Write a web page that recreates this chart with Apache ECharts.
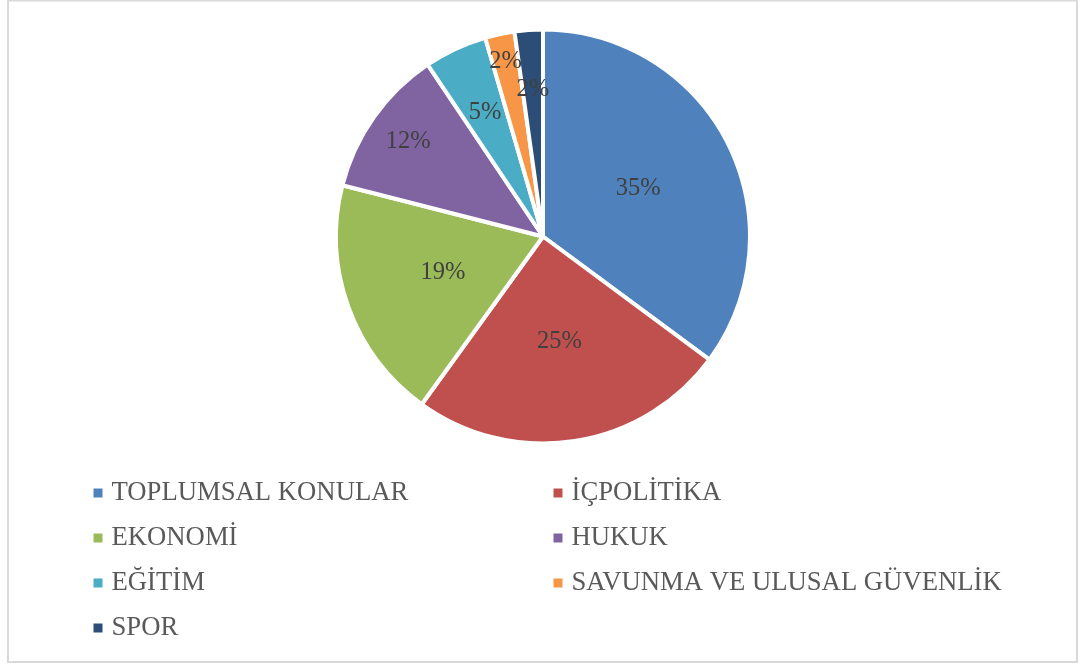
<!DOCTYPE html>
<html>
<head>
<meta charset="utf-8">
<script src="https://cdn.jsdelivr.net/npm/echarts@6/dist/echarts.min.js"></script>
<style>
html,body{margin:0;padding:0;background:#fff;}
#chart{width:1091px;height:666px;}
</style>
</head>
<body>
<div id="chart"></div>
<script>
const categories = ['TOPLUMSAL KONULAR','İÇPOLİTİKA','EKONOMİ','HUKUK','EĞİTİM','SAVUNMA VE ULUSAL GÜVENLİK','SPOR'];
const values = [35.1, 24.8, 19.0, 11.6, 4.9, 2.3, 2.2];
const colors = ['#4F81BD','#C0504D','#9BBB59','#8064A2','#4BACC6','#F79646','#2C4D75'];
const legendLeft = ['TOPLUMSAL KONULAR','EKONOMİ','EĞİTİM','SPOR'];
const legendRight = ['İÇPOLİTİKA','HUKUK','SAVUNMA VE ULUSAL GÜVENLİK'];

const FONT = "'Liberation Serif','Times New Roman',serif";
const CX = 543, CY = 236.5, R = 207;

// label radius groups: slices whose label sits further out (best-fit style)
const labelInnerRadius = {3: 119, 4: 63, 5: 147, 6: 83};

const pct = p => Math.round(p.percent) + '%';
const labelStyle = {fontFamily: FONT, fontSize: 24.5, color: '#404040'};

const mainData = categories.map((c, i) => ({
  name: c, value: values[i],
  itemStyle: {color: colors[i]},
  label: {show: !(i in labelInnerRadius)}
}));

const series = [{
  type: 'pie', radius: [0, R], center: [CX, CY], startAngle: 90, clockwise: true,
  silent: true, avoidLabelOverlap: false,
  itemStyle: {borderColor: '#fff', borderWidth: 4},
  label: Object.assign({position: 'inside', formatter: pct}, labelStyle),
  labelLine: {show: false},
  emphasis: {disabled: true},
  data: mainData
}];

Object.keys(labelInnerRadius).forEach(k => {
  const idx = +k;
  series.push({
    type: 'pie', radius: [labelInnerRadius[k], R - 2], center: [CX, CY], startAngle: 90, clockwise: true,
    silent: true, avoidLabelOverlap: false, z: 3,
    itemStyle: {color: 'rgba(0,0,0,0)', borderWidth: 0},
    label: Object.assign({position: 'inside', formatter: pct}, labelStyle),
    labelLine: {show: false},
    emphasis: {disabled: true},
    data: categories.map((c, i) => ({name: c, value: values[i], label: {show: i === idx}, itemStyle: {color: 'rgba(0,0,0,0)'}}))
  });
});

const legendCommon = {
  orient: 'vertical', top: 479.5, itemWidth: 9, itemHeight: 9, icon: 'rect', itemGap: 18, padding: 0,
  selectedMode: false,
  itemStyle: {borderWidth: 0},
  textStyle: {fontFamily: FONT, fontSize: 26.7, color: '#595959', lineHeight: 27, padding: [0,0,0,4]}
};

const chart = echarts.init(document.getElementById('chart'), null, {renderer: 'canvas'});
chart.setOption({
  animation: false,
  color: colors,
  graphic: [{type: 'rect', shape: {x: 8, y: 0.5, width: 1069, height: 661.5}, style: {fill: 'none', stroke: '#D9D9D9', lineWidth: 2}, z: -1}],
  legend: [
    Object.assign({left: 93.5, data: legendLeft}, legendCommon),
    Object.assign({left: 553.5, data: legendRight}, legendCommon)
  ],
  series: series
});
</script>
</body>
</html>
